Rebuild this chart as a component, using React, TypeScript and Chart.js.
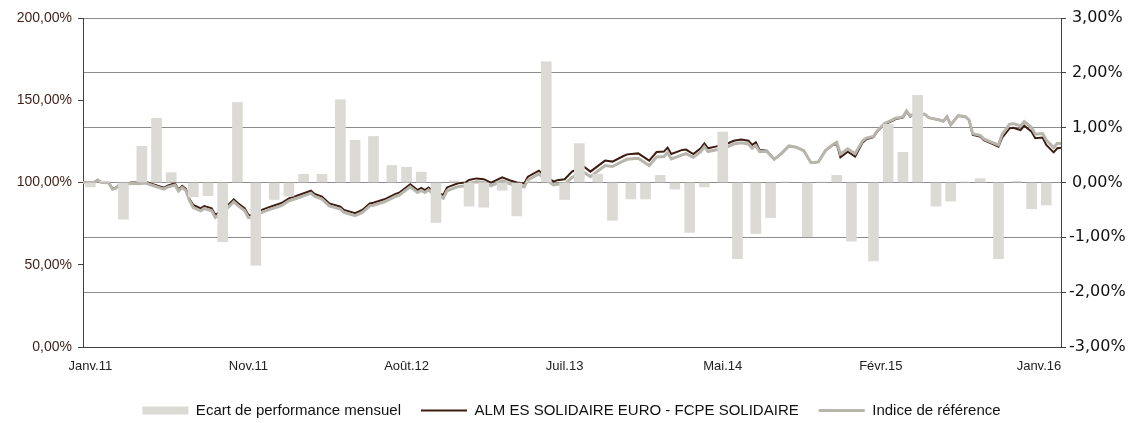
import React, { useEffect, useRef } from 'react';
import { Chart, registerables } from 'chart.js';

Chart.register(...registerables);

// X axis: weekly index (Jan 2011 -> Jan 2016)
const weekMax = 266;
const tickWeeks = [2, 45, 88, 131, 174, 217, 260];
const tickLabels = ['Janv.11', 'Nov.11', 'Août.12', 'Juil.13', 'Mai.14', 'Févr.15', 'Janv.16'];

// Monthly performance gap (%), right axis
const barWeeks = [2, 6, 11, 16, 20, 24, 30, 34, 38, 42, 47, 52, 56, 60, 65, 70, 74, 79, 84, 88, 92, 96, 101, 105, 109, 114, 118, 122, 126, 131, 135, 140, 144, 149, 153, 157, 161, 165, 169, 174, 178, 183, 187, 191, 197, 201, 205, 209, 215, 219, 223, 227, 232, 236, 240, 244, 249, 254, 258, 262];
const barValues = [-0.08, 0.02, -0.67, 0.66, 1.17, 0.18, -0.26, -0.24, -1.08, 1.46, -1.51, -0.31, -0.25, 0.15, 0.15, 1.51, 0.77, 0.84, 0.31, 0.28, 0.19, -0.73, 0.03, -0.43, -0.45, -0.14, -0.61, 0.02, 2.2, -0.31, 0.71, 0.15, -0.69, -0.3, -0.3, 0.13, -0.12, -0.91, -0.08, 0.92, -1.39, -0.93, -0.64, 0.01, -0.99, 0.01, 0.13, -1.07, -1.43, 1.06, 0.55, 1.59, -0.43, -0.34, 0.01, 0.07, -1.39, 0.02, -0.48, -0.41];

// Base-100 lines (%), left axis
const lineWeeks = [0, 3, 4, 5, 7, 8, 9, 10, 12, 13, 15, 17, 19, 22, 23, 25, 26, 27, 28, 29, 30, 32, 33, 35, 36, 39, 41, 42, 44, 45, 47, 48, 49, 51, 54, 56, 58, 62, 63, 65, 67, 70, 71, 74, 76, 78, 79, 82, 85, 86, 89, 91, 92, 93, 94, 95, 98, 99, 102, 104, 105, 107, 109, 111, 114, 116, 118, 120, 121, 124, 125, 128, 129, 131, 133, 134, 136, 138, 142, 144, 147, 148, 151, 154, 156, 158, 159, 160, 163, 164, 166, 168, 169, 170, 172, 175, 177, 179, 181, 182, 183, 184, 186, 188, 190, 192, 194, 196, 198, 200, 202, 204, 205, 206, 208, 210, 212, 213, 215, 216, 218, 220, 221, 223, 224, 225, 226, 229, 230, 233, 234, 235, 236, 238, 240, 241, 242, 244, 245, 247, 249, 250, 252, 253, 255, 256, 258, 259, 261, 262, 264, 265, 266];
const fundValues = [100, 100, 101.5, 100, 99.8, 96.3, 97, 99, 99.3, 100, 100, 100.5, 99, 96.8, 98, 99.5, 95.8, 98, 96, 89.8, 86.3, 84.3, 85.7, 84.3, 80.2, 85.3, 89.8, 87.7, 84.3, 80.2, 80, 82.7, 83.7, 85.3, 87.5, 90.4, 91.8, 95, 93, 91.4, 87.3, 85.3, 83.3, 81.3, 83.3, 87.3, 87.7, 89.8, 93, 93.8, 98.9, 95.4, 96.7, 95.4, 97, 95, 92.4, 97, 99.5, 100, 101.5, 102.5, 102, 99.9, 103.1, 101.4, 100, 99.4, 103.5, 107.2, 105.2, 100.5, 101.4, 102, 106.6, 107.6, 110, 106.6, 113.3, 112.7, 116.1, 117.1, 117.7, 113.3, 118.5, 118.8, 121.2, 117.3, 119.8, 120, 117.3, 120.8, 123.8, 120.8, 121.8, 123.4, 125.4, 126.2, 125.4, 122.8, 124.4, 119.8, 119.4, 114.1, 117.7, 122.2, 121.4, 119.4, 112, 112.5, 119.6, 122.8, 123.4, 115.3, 118.7, 115.7, 124.2, 126.2, 127.5, 130.9, 135.4, 137.4, 138.6, 139.4, 143, 140, 141.5, 141.5, 139.4, 138, 137.2, 140, 135, 140.6, 140, 138, 128.9, 128, 125.8, 123.8, 121.8, 127.3, 132.9, 133.3, 131.9, 134.5, 130.9, 126.9, 127.3, 122.8, 118.3, 120.8, 121.2];
const indexValues = [100, 100, 101.5, 100, 99.8, 95.9, 96.6, 98.7, 99, 99.5, 99.2, 99.7, 98.2, 96, 97.2, 98.5, 94.8, 97, 95, 88.8, 84.8, 82.8, 84.2, 82.8, 78.7, 83.8, 88.3, 86.2, 82.8, 78.7, 78.5, 81.2, 82.2, 83.8, 86, 88.9, 90.3, 93.5, 91.5, 89.9, 85.8, 83.8, 81.8, 79.8, 81.8, 85.8, 86.2, 88.3, 91.5, 92.3, 97.4, 93.9, 95.2, 93.9, 95.5, 93.5, 90.4, 95, 97.5, 98, 99.5, 100.5, 100, 97.9, 101.1, 99.4, 98, 97.4, 101.5, 105.2, 103.2, 98.5, 98.9, 99, 103.1, 104.1, 106.5, 103.6, 110.3, 109.7, 113.1, 114.1, 114.7, 110.3, 115.5, 115.8, 118.2, 114.3, 116.8, 117.5, 115.3, 118.8, 121.8, 118.8, 119.8, 121.4, 123.4, 124.2, 123.4, 120.8, 122.4, 118.8, 118.9, 114.1, 117.7, 122.2, 121.4, 119.4, 112, 112.5, 119.6, 123.1, 124.4, 117.3, 120.5, 117.5, 125.2, 127, 128, 131.4, 135.9, 137.9, 139.1, 139.9, 143.5, 140.5, 142, 141.5, 139.4, 138, 137.2, 140, 135, 140.6, 140, 138, 129.6, 128.7, 126.5, 124.5, 122.8, 129.3, 135.4, 135.8, 134.4, 137, 133.4, 129.4, 129.8, 125.8, 121.3, 123.8, 123.7];

const leftTicks = [0, 50, 100, 150, 200];
const rightTicks = [-3, -2, -1, 0, 1, 2, 3];

const seriesLabels = ['Ecart de performance mensuel', 'ALM ES SOLIDAIRE EURO - FCPE SOLIDAIRE', 'Indice de référence'];

const fmt = (v: number) => v.toFixed(2).replace('.', ',') + '%';

const BAR_COLOR = '#dcdad5';
const FUND_COLOR = '#3d1c12';
const INDEX_COLOR = '#b8b5ad';
const AXIS_COLOR = '#404040';
const GRID_COLOR = '#8c8c8c';

export default function App() {
  const ref = useRef<HTMLCanvasElement | null>(null);

  useEffect(() => {
    document.body.style.margin = '0';
    const canvas = ref.current;
    if (!canvas) return;
    const chart = new Chart(canvas, {
      type: 'bar',
      data: {
        datasets: [
          {
            type: 'bar',
            label: seriesLabels[0],
            data: barWeeks.map((w, i) => ({ x: w, y: barValues[i] })),
            yAxisID: 'y1',
            backgroundColor: BAR_COLOR,
            borderWidth: 0,
            barThickness: 10,
            order: 0,
          },
          {
            type: 'line',
            label: seriesLabels[1],
            data: lineWeeks.map((w, i) => ({ x: w, y: fundValues[i] })),
            yAxisID: 'y',
            borderColor: FUND_COLOR,
            backgroundColor: FUND_COLOR,
            borderWidth: 2,
            pointRadius: 0,
            tension: 0,
            order: 2,
          },
          {
            type: 'line',
            label: seriesLabels[2],
            data: lineWeeks.map((w, i) => ({ x: w, y: indexValues[i] })),
            yAxisID: 'y',
            borderColor: INDEX_COLOR,
            backgroundColor: INDEX_COLOR,
            borderWidth: 3,
            pointRadius: 0,
            tension: 0,
            order: 1,
          },
        ] as any,
      },
      options: {
        animation: false,
        responsive: false,
        maintainAspectRatio: false,
        events: [],
        layout: { padding: { top: 18, left: 12, right: 0, bottom: -5 } },
        plugins: {
          tooltip: { enabled: false },
          legend: {
            position: 'bottom',
            labels: {
              usePointStyle: true,
              pointStyleWidth: 46,
              boxHeight: 8,
              padding: 20,
              color: '#111',
              font: { family: 'Liberation Sans, Arial, sans-serif', size: 15 },
              generateLabels: (c: any) =>
                c.data.datasets.map((ds: any, i: number) => ({
                  text: ds.label,
                  fillStyle: i === 0 ? BAR_COLOR : 'rgba(0,0,0,0)',
                  strokeStyle: i === 0 ? BAR_COLOR : ds.borderColor,
                  lineWidth: i === 0 ? 0 : ds.borderWidth,
                  pointStyle: i === 0 ? 'rect' : 'line',
                  hidden: false,
                  datasetIndex: i,
                  fontColor: '#111',
                })),
            },
          },
        },
        scales: {
          x: {
            type: 'linear',
            min: 0,
            max: weekMax,
            offset: false,
            afterBuildTicks: (s: any) => {
              s.ticks = tickWeeks.map((v) => ({ value: v }));
            },
            afterFit: (s: any) => {
              s.height = 36;
            },
            grid: { display: false, drawTicks: false, offset: false },
            border: { display: true, color: AXIS_COLOR, width: 1 },
            ticks: {
              autoSkip: false,
              maxRotation: 0,
              padding: 12,
              color: '#222',
              font: { family: 'Liberation Sans, Arial, sans-serif', size: 13 },
              callback: (v: any) => {
                const k = tickWeeks.indexOf(Number(v));
                return k >= 0 ? tickLabels[k] : '';
              },
            },
          },
          y: {
            position: 'left',
            min: 0,
            max: 200,
            afterBuildTicks: (s: any) => {
              s.ticks = leftTicks.map((v) => ({ value: v }));
            },
            afterFit: (s: any) => {
              s.width = 71;
            },
            grid: { drawOnChartArea: false, tickLength: 5, color: AXIS_COLOR },
            border: { display: true, color: AXIS_COLOR, width: 1 },
            ticks: {
              padding: 6,
              color: '#3c1f16',
              font: { family: 'Liberation Sans, Arial, sans-serif', size: 14 },
              callback: (v: any) => fmt(Number(v)),
            },
          },
          y1: {
            position: 'right',
            min: -3,
            max: 3,
            afterBuildTicks: (s: any) => {
              s.ticks = rightTicks.map((v) => ({ value: v }));
            },
            afterFit: (s: any) => {
              s.width = 70;
            },
            grid: { color: GRID_COLOR, tickColor: AXIS_COLOR, tickLength: 5 },
            border: { display: true, color: AXIS_COLOR, width: 1 },
            ticks: {
              padding: 3,
              crossAlign: 'center',
              color: '#111',
              font: { family: 'DejaVu Sans, Verdana, sans-serif', size: 16 },
              callback: (v: any) => fmt(Number(v)),
            },
          },
        },
      } as any,
    });
    return () => chart.destroy();
  }, []);

  return (
    <div style={{ width: 1131, height: 423 }}>
      <canvas ref={ref} width={1131} height={423} />
    </div>
  );
}
